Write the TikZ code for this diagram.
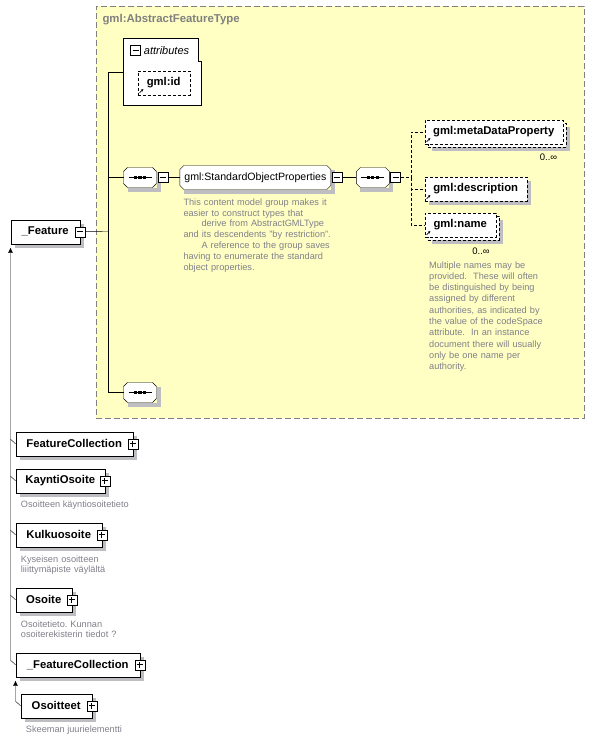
\documentclass[tikz,border=0pt]{standalone}
\usepackage{fontspec}
\setmainfont{Liberation Sans}
\frenchspacing
\usetikzlibrary{positioning,arrows.meta}
\pgfdeclarelayer{typelayer}
\pgfdeclarelayer{shadelayer}
\pgfsetlayers{typelayer,shadelayer,main}
\definecolor{typefill}{RGB}{255,255,196}
\definecolor{typeline}{RGB}{128,128,128}
\definecolor{notegray}{RGB}{128,128,138}
\definecolor{shadowtone}{RGB}{190,190,194}
% box with cut corners for compositors and groups
\makeatletter
\newdimen\cutx \newdimen\cuty \newdimen\cutX \newdimen\cutY
\pgfdeclareshape{cutbox}{
  \inheritsavedanchors[from=rectangle]
  \inheritanchorborder[from=rectangle]
  \inheritanchor[from=rectangle]{center}
  \inheritanchor[from=rectangle]{north}
  \inheritanchor[from=rectangle]{south}
  \inheritanchor[from=rectangle]{east}
  \inheritanchor[from=rectangle]{west}
  \inheritanchor[from=rectangle]{north east}
  \inheritanchor[from=rectangle]{north west}
  \inheritanchor[from=rectangle]{south east}
  \inheritanchor[from=rectangle]{south west}
  \backgroundpath{
    \southwest \cutx=\pgf@x \cuty=\pgf@y
    \northeast \cutX=\pgf@x \cutY=\pgf@y
    \pgfpathmoveto{\pgfqpoint{\cutx}{\dimexpr\cuty+4pt\relax}}
    \pgfpathlineto{\pgfqpoint{\cutx}{\dimexpr\cutY-4pt\relax}}
    \pgfpathlineto{\pgfqpoint{\dimexpr\cutx+4pt\relax}{\cutY}}
    \pgfpathlineto{\pgfqpoint{\dimexpr\cutX-4pt\relax}{\cutY}}
    \pgfpathlineto{\pgfqpoint{\cutX}{\dimexpr\cutY-4pt\relax}}
    \pgfpathlineto{\pgfqpoint{\cutX}{\dimexpr\cuty+4pt\relax}}
    \pgfpathlineto{\pgfqpoint{\dimexpr\cutX-4pt\relax}{\cuty}}
    \pgfpathlineto{\pgfqpoint{\dimexpr\cutx+4pt\relax}{\cuty}}
    \pgfpathclose
  }
}
\makeatother
\tikzset{
  stacked/.style={preaction={draw=black, fill=white, dash pattern=on 3pt off 2pt,
    transform canvas={shift={(3pt,-3pt)}}}},
  elem/.style={draw, fill=white, anchor=north west, inner sep=0pt,
    minimum width=#1, minimum height=24pt, font=\fontsize{11.3}{13}\selectfont\bfseries},
  optional/.style={dash pattern=on 3pt off 2pt,
    path picture={\draw[solid, black, line width=0.8pt, -{Stealth[length=2.4pt,width=2.6pt]}]
      ([shift={(2pt,2pt)}]path picture bounding box.south west) -- ++(3.6pt,3.6pt);}},
  expbox/.style={draw, fill=white, inner sep=0pt, minimum size=10pt},
  minusbox/.style={expbox, path picture={
    \draw[black, line width=1pt] ([xshift=2pt]path picture bounding box.west) -- ([xshift=-2pt]path picture bounding box.east);}},
  plusbox/.style={expbox, path picture={
    \draw[black, line width=1pt] ([xshift=2pt]path picture bounding box.west) -- ([xshift=-2pt]path picture bounding box.east);
    \draw[black, line width=1pt] ([yshift=2pt]path picture bounding box.south) -- ([yshift=-2pt]path picture bounding box.north);}},
  seq/.style={cutbox, draw, fill=white, anchor=west, inner sep=0pt, outer sep=0pt,
    minimum width=33pt, minimum height=20pt,
    path picture={
      \draw[black, line width=1pt] ([xshift=5pt]path picture bounding box.west) -- ([xshift=-5pt]path picture bounding box.east);
      \fill[black] ([xshift=-4.5pt]path picture bounding box.center) +(-1.6pt,-1.6pt) rectangle +(1.6pt,1.6pt);
      \fill[black] (path picture bounding box.center) +(-1.6pt,-1.6pt) rectangle +(1.6pt,1.6pt);
      \fill[black] ([xshift=4.5pt]path picture bounding box.center) +(-1.6pt,-1.6pt) rectangle +(1.6pt,1.6pt);}},
  grp/.style={cutbox, draw, fill=white, anchor=west, inner sep=0pt, outer sep=0pt,
    minimum width=151pt, minimum height=24pt, font=\fontsize{10.6}{13}\selectfont},
  boxshade/.style={draw=shadowtone, line width=4pt, line join=miter},
  note/.style={anchor=base west, inner sep=0pt, align=left, text=notegray,
    font=\fontsize{9.2}{10.8}\selectfont},
  occ/.style={inner sep=0pt, font=\fontsize{9.5}{11}\selectfont},
  optconn/.style={dash pattern=on 3pt off 2pt},
  typebox/.style={draw=typeline, fill=typefill, line width=1.2pt, dash pattern=on 6pt off 3pt,
    anchor=north west, inner sep=0pt, minimum width=488pt, minimum height=412pt},
  typetitle/.style={anchor=base west, inner sep=0pt, text=typeline,
    font=\fontsize{11.4}{13}\selectfont\bfseries}
}
\begin{document}
\begin{tikzpicture}[x=1pt, y=-1pt, line width=1pt]
	\useasboundingbox (0,0) rectangle (594,740);

	% complex type
	\begin{pgfonlayer}{typelayer}
		\node[typebox] (ftype) at (95.5,5.5) {};
	\end{pgfonlayer}
	\node[typetitle] (ftype-title) at (102.3,22) {gml:AbstractFeatureType};

	% attributes
	\node[anchor=north west, inner sep=0pt, minimum width=77pt, minimum height=66pt] (attrs) at (123.5,38.5) {};
	\draw[fill=white] (attrs.north west) -- ([xshift=-3pt]attrs.north east) -- ++(0,23) -- ++(3,0)
		-- (attrs.south east) -- (attrs.south west) -- cycle;
	\node[minusbox] (attrs-exp) at (135.5,50.5) {};
	\node[inner sep=0pt, font=\fontsize{11}{13}\selectfont\itshape, right=3pt of attrs-exp] (attrs-label) {attributes};
	\node[elem=52pt, optional] (gmlid) at (137.5,70.5) {gml:id};

	% content model
	\node[seq] (seqA) at (123.5,177.5) {};
	\node[minusbox, right=1pt of seqA] (seqA-exp) {};
	\node[grp, right=12pt of seqA-exp] (sop) {gml:StandardObjectProperties};
	\node[minusbox, right=1pt of sop] (sop-exp) {};
	\node[seq, right=14pt of sop-exp] (seqB) {};
	\node[minusbox, right=1pt of seqB] (seqB-exp) {};
	\node[note, text width=150pt] (sop-note) at (183.3,205.3) {This content model group makes it\\
		easier to construct types that\\
		\hspace*{18pt}derive from AbstractGMLType\\
		and its descendents "by restriction".\\
		\hspace*{18pt}A reference to the group saves\\
		having to enumerate the standard\\
		object properties.};

	\node[elem=138pt, optional, stacked] (mdp) at (424.5,119.5) {gml:metaDataProperty};
	\node[occ, below left=10pt and 5.5pt of mdp.south east] (mdp-occ) {0..∞};
	\node[elem=102pt, optional] (desc) at (424.5,176.5) {gml:description};
	\node[elem=71pt, optional, stacked] (name) at (424.5,212.5) {gml:name};
	\node[occ, below left=10.5pt and 6pt of name.south east] (name-occ) {0..∞};
	\node[note, text width=125pt, font=\fontsize{9.2}{11.3}\selectfont] (name-note) at (429,268) {Multiple names may be\\
		provided.\ \ These will often\\
		be distinguished by being\\
		assigned by different\\
		authorities, as indicated by\\
		the value of the codeSpace\\
		attribute.\ \ In an instance\\
		document there will usually\\
		only be one name per\\
		authority.};

	\node[seq] (seqC) at (123.5,392.5) {};

	% substitution group
	\node[elem=69pt] (feature) at (10.5,219.5) {\_Feature};
	\node[minusbox] (feature-exp) at (feature.east) {};
	\node[elem=117pt] (fc) at (15.5,431.5) {FeatureCollection};
	\node[plusbox] (fc-exp) at (fc.east) {};
	\node[elem=89pt] (kaynti) at (15.5,468.5) {KayntiOsoite};
	\node[plusbox] (kaynti-exp) at (kaynti.east) {};
	\node[note] (kaynti-note) at (20.7,507.3) {Osoitteen käyntiosoitetieto};
	\node[elem=86pt] (kulku) at (15.5,522.5) {Kulkuosoite};
	\node[plusbox] (kulku-exp) at (kulku.east) {};
	\node[note, text width=120pt] (kulku-note) at (20.7,562) {Kyseisen osoitteen\\liiittymäpiste väylältä};
	\node[elem=56pt] (osoite) at (15.5,587.5) {Osoite};
	\node[plusbox] (osoite-exp) at (osoite.east) {};
	\node[note, text width=120pt] (osoite-note) at (20.7,627) {Osoitetieto. Kunnan\\osoiterekisterin tiedot ?};
	\node[elem=124pt] (fcoll) at (15.5,652.5) {\_FeatureCollection};
	\node[plusbox] (fcoll-exp) at (fcoll.east) {};
	\node[elem=71pt] (osoitteet) at (20.5,693.5) {Osoitteet};
	\node[plusbox] (osoitteet-exp) at (osoitteet.east) {};
	\node[note] (osoitteet-note) at (25.7,732.5) {Skeeman juurielementti};

	% shadows
	\begin{pgfonlayer}{shadelayer}
		\foreach \n in {gmlid,desc,feature,fc,kaynti,kulku,osoite,fcoll,osoitteet,seqA,seqB,seqC,sop}
			\draw[boxshade] ([shift={(2pt,-4pt)}]\n.north east) -- ([shift={(2pt,-2pt)}]\n.south east) -- ([shift={(4pt,-2pt)}]\n.south west);
		\foreach \n in {mdp,name}
			\draw[boxshade] ([shift={(5pt,-7pt)}]\n.north east) -- ([shift={(5pt,-5pt)}]\n.south east) -- ([shift={(7pt,-5pt)}]\n.south west);
	\end{pgfonlayer}

	% connectors
	\coordinate (trunk) at (108.5,231.5);
	\draw (feature-exp) -- (trunk);
	\draw (attrs.west) -| (trunk) |- (seqC.west);
	\draw (seqA.west) -- (seqA.west -| trunk);
	\draw (seqA-exp) -- (sop);
	\draw (sop-exp) -- (seqB);
	\coordinate (fork) at ([xshift=10pt]seqB-exp.east);
	\draw[optconn] (seqB-exp) -- (fork);
	\draw[optconn] (fork) |- (mdp.west);
	\draw[optconn] (fork) |- (desc.west);
	\draw[optconn] (fork) |- (name.west);

	\draw[{Triangle[width=4.5pt,length=5pt]}-] ([yshift=-4pt]feature.south west) -- ([shift={(-5pt,4.5pt)}]fcoll.west) -- (fcoll.west);
	\draw (fc.west) -- ++(-5pt,4.5pt);
	\draw (kaynti.west) -- ++(-5pt,4.5pt);
	\draw (kulku.west) -- ++(-5pt,4.5pt);
	\draw (osoite.west) -- ++(-5pt,4.5pt);
	\draw[{Triangle[width=4.5pt,length=5pt]}-] ([yshift=-4pt]fcoll.south west) -- ([shift={(-5pt,4.5pt)}]osoitteet.west) -- (osoitteet.west);
\end{tikzpicture}
\end{document}
